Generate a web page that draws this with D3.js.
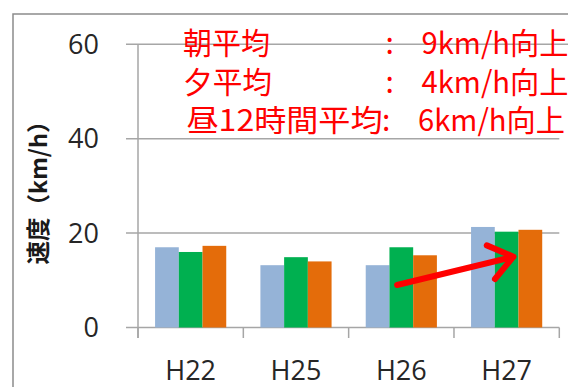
<!DOCTYPE html>
<html><head><meta charset="utf-8">
<script src="https://cdn.jsdelivr.net/npm/d3@7"></script>
<style>body{margin:0;background:#fff;}svg{display:block;}</style>
</head><body>
<svg id="c" width="568" height="387"></svg>
<script>
const categories = ["H22", "H25", "H26", "H27"];
const seriesNames = ["朝", "夕", "昼12時間"];
const morning = [17.0, 13.2, 13.2, 21.3];
const evening = [16.0, 14.9, 17.0, 20.3];
const daytime = [17.3, 14.0, 15.3, 20.7];
const yTicks = [0, 20, 40, 60];
const seriesColors = ["#95B3D7", "#00B050", "#E46C0A"];
const annLabels = ["朝平均", "夕平均", "昼12時間平均"];
const annValues = ["9km/h向上", "4km/h向上", "6km/h向上"];
// arrow annotation in data terms: [category, fraction across band, value]
const arrowFrom = ["H26", 0.46, 9.0];
const arrowTo = ["H27", 0.565, 15.0];

const svg = d3.select("#c");
const x = d3.scaleBand().domain(categories).range([138, 559.3]).padding(0);
const y = d3.scaleLinear().domain([0, 60]).range([327.5, 44.3]);
const xs = d3.scaleBand().domain(seriesNames).range([0, x.bandwidth()]).paddingInner(0).paddingOuter(0.72);

// outer border
svg.append("path").attr("d", "M13,387V14H568").attr("fill", "none").attr("stroke", "#8c8c8c").attr("stroke-width", 1.5);

// gridlines
const grid = svg.append("g");
yTicks.forEach(t => {
  grid.append("line").attr("x1", 126).attr("x2", t === 60 ? 568 : 559.3)
    .attr("y1", y(t)).attr("y2", y(t)).attr("stroke", "#a6a6a6").attr("stroke-width", 1.5);
});
// y axis line
svg.append("line").attr("x1", 138).attr("x2", 138).attr("y1", y(60)).attr("y2", 338)
  .attr("stroke", "#a6a6a6").attr("stroke-width", 1.5);
// x ticks
categories.concat(["end"]).forEach((c, i) => {
  const xx = i < categories.length ? x(c) : x(categories[categories.length - 1]) + x.bandwidth();
  svg.append("line").attr("x1", xx).attr("x2", xx).attr("y1", y(0)).attr("y2", 338)
    .attr("stroke", "#a6a6a6").attr("stroke-width", 1.5);
});

// bars
const seriesData = [morning, evening, daytime];
seriesData.forEach((vals, si) => {
  svg.append("g").selectAll("rect").data(vals).join("rect")
    .attr("x", (d, i) => x(categories[i]) + xs(seriesNames[si]))
    .attr("width", xs.bandwidth())
    .attr("y", d => y(d))
    .attr("height", d => y(0) - y(d))
    .attr("fill", seriesColors[si]);
});

// tick labels
svg.append("g").selectAll("text").data(yTicks).join("text")
  .attr("x", 99).attr("y", d => y(d)).attr("dy", "0.36em")
  .attr("text-anchor", "end").attr("font-family", "Open Sans, sans-serif")
  .attr("font-size", 27).attr("fill", "#262626").text(d => d);
svg.append("g").selectAll("text").data(categories).join("text")
  .attr("x", d => x(d) + x.bandwidth() / 2).attr("y", 380)
  .attr("text-anchor", "middle").attr("font-family", "Open Sans, sans-serif")
  .attr("font-size", 27).attr("fill", "#262626").text(d => d);

// y title
svg.append("text").attr("transform", "translate(46.5,187) rotate(-90)")
  .attr("text-anchor", "middle").attr("font-family", "Noto Sans CJK JP")
  .attr("font-weight", "bold")
  .attr("font-size", 23.5).attr("fill", "#1a1a1a").text("速度（km/h）");

// arrow
const ax = d => x(d[0]) + d[1] * x.bandwidth();
const p0 = [ax(arrowFrom), y(arrowFrom[2])];
const p1 = [ax(arrowTo), y(arrowTo[2])];
const ang = Math.atan2(p1[1] - p0[1], p1[0] - p0[0]);
const hl = 29, ha = 0.64;
const a1 = [p1[0] - hl * Math.cos(ang - ha), p1[1] - hl * Math.sin(ang - ha)];
const a2 = [p1[0] - hl * Math.cos(ang + ha), p1[1] - hl * Math.sin(ang + ha)];
svg.append("path")
  .attr("d", `M${p0}L${p1}M${a1}L${p1}L${a2}`)
  .attr("fill", "none").attr("stroke", "#ff0000").attr("stroke-width", 6)
  .attr("stroke-linecap", "round").attr("stroke-linejoin", "round");

// annotation text
const rowY = [54, 93, 131];
const labelW = [87, 89, 196];
const ann = svg.append("g").attr("font-family", "Noto Sans CJK JP").attr("font-size", 30).attr("fill", "#ff0000");
annLabels.forEach((t, i) => {
  ann.append("text").attr("x", i === 2 ? 186.5 : 183).attr("y", rowY[i])
    .attr("textLength", labelW[i]).attr("lengthAdjust", "spacingAndGlyphs").text(t);
  ann.append("text").attr("x", i === 2 ? 382 : 385.5).attr("y", rowY[i]).text(":");
  ann.append("text").attr("x", i === 2 ? 418 : 421.5).attr("y", rowY[i])
    .attr("textLength", 147).attr("lengthAdjust", "spacingAndGlyphs").text(annValues[i]);
});
</script>
</body></html>
